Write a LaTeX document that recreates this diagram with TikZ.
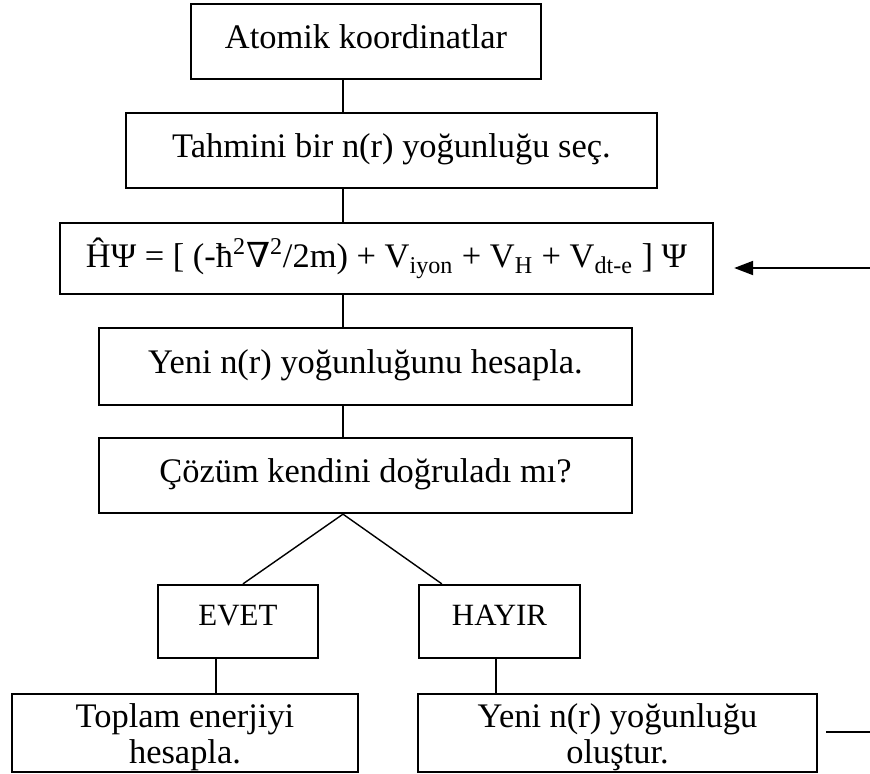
\documentclass[tikz,border=0pt]{standalone}
\usepackage{fontspec}
\setmainfont{Liberation Serif}
\newfontfamily\nablafont{DejaVu Serif}
\usetikzlibrary{arrows.meta,positioning}

\begin{document}
\begin{tikzpicture}[box/.style={draw,line width=1.3pt,align=center,inner sep=0pt,
    font=\fontsize{19.6}{20.5}\selectfont},
  one/.style={box,text height=0.47cm,text depth=0.2cm},
  two/.style={box,text height=1.38cm},
  small/.style={box,font=\fontsize{17.6}{19}\selectfont,text height=0.41cm,text depth=0.27cm},
  link/.style={line width=0.8pt}]
    \useasboundingbox (0,0) rectangle (17.4,-15.46);
    \coordinate (spine) at (6.86,0);
    \coordinate (fbin) at (17.4,-5.36);
    \coordinate (fbout) at (17.4,-14.64);
    \node[one,minimum width=7.0cm,minimum height=1.5cm] at (7.32,-0.83) (koord)
      {Atomik koordinatlar};
    \node[one,minimum width=10.62cm,minimum height=1.5cm] at (7.83,-3.01) (tahmin)
      {Tahmini bir n(r) yoğunluğu seç.};
    \node[box,minimum width=13.06cm,minimum height=1.42cm] at (7.73,-5.17) (hamilton)
      {ĤΨ = [ (-ħ\textsuperscript{2}{\nablafont ∇}\textsuperscript{2}/2m) + V\textsubscript{iyon} + V\textsubscript{H} + V\textsubscript{dt-e} ] Ψ};
    \node[one,minimum width=10.66cm,minimum height=1.54cm] at (7.31,-7.33) (yeni)
      {Yeni n(r) yoğunluğunu hesapla.};
    \node[one,minimum width=10.66cm,minimum height=1.5cm] at (7.31,-9.51) (cozum)
      {Çözüm kendini doğruladı mı?};
    \node[small,minimum width=3.2cm,minimum height=1.46cm] at (4.76,-12.43) (evet) {EVET};
    \node[small,minimum width=3.22cm,minimum height=1.46cm] at (9.99,-12.43) (hayir) {HAYIR};
    \node[two,minimum width=6.92cm,minimum height=1.56cm] at (3.7,-14.66) (toplam)
      {Toplam enerjiyi\\hesapla.};
    \node[two,minimum width=7.98cm,minimum height=1.56cm] at (12.35,-14.66) (olustur)
      {Yeni n(r) yoğunluğu\\oluştur.};
    \draw[link] (koord.south -| spine) -- (tahmin.north -| spine);
    \draw[link] (tahmin.south -| spine) -- (hamilton.north -| spine);
    \draw[link] (hamilton.south -| spine) -- (yeni.north -| spine);
    \draw[link] (yeni.south -| spine) -- (cozum.north -| spine);
    \draw[link] (cozum.south -| spine) -- ([xshift=0.1cm]evet.north);
    \draw[link] (cozum.south -| spine) -- ([xshift=0.48cm]hayir.north west);
    \draw[link] ([xshift=-0.44cm]evet.south) -- ([xshift=-0.44cm]evet.south |- toplam.north);
    \draw[link] ([xshift=-0.07cm]hayir.south) -- ([xshift=-0.07cm]hayir.south |- olustur.north);
    \draw[-{Triangle[length=3.8mm,width=2.8mm]},line width=1.1pt] (fbin) -- ([xshift=0.4cm]hamilton.east |- fbin);
    \draw[line width=1.1pt] ([xshift=0.16cm]olustur.east |- fbout) -- (fbout);
\end{tikzpicture}
\end{document}
